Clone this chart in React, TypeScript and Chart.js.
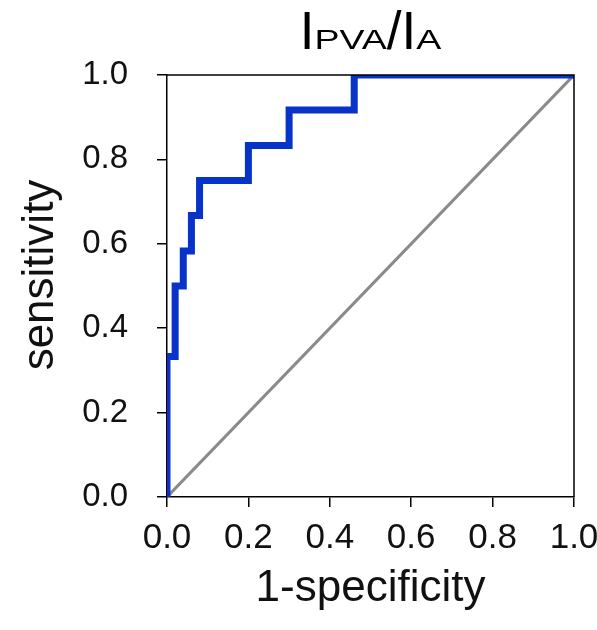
import React, { useEffect, useRef } from "react";
import { Chart, registerables } from "chart.js";

Chart.register(...registerables);

// ROC curve corner points (1-specificity, sensitivity)
const fpr = [0, 0, 0.02, 0.04, 0.06, 0.08, 0.2, 0.3, 0.46, 1];
const tpr = [0, 0.333, 0.5, 0.583, 0.667, 0.75, 0.833, 0.917, 1, 1];
// reference diagonal
const diagX = [0, 1];
const diagY = [0, 1];
const tickValues = [0, 0.2, 0.4, 0.6, 0.8, 1.0];
const xTitle = "1-specificity";
const yTitle = "sensitivity";
const titleParts = [
  { text: "I", sub: false },
  { text: "PVA", sub: true },
  { text: "/", sub: false },
  { text: "I", sub: false },
  { text: "A", sub: true },
];

const FONT = "Arial, 'Liberation Sans', sans-serif";

export default function App() {
  const ref = useRef<HTMLCanvasElement>(null);

  useEffect(() => {
    const canvas = ref.current;
    if (!canvas) return;

    const titlePlugin = {
      id: "subTitle",
      afterDraw(chart: any) {
        const ctx = chart.ctx;
        const area = chart.chartArea;
        ctx.save();
        // box top & right
        ctx.strokeStyle = "#000";
        ctx.lineWidth = 1.5;
        ctx.beginPath();
        ctx.moveTo(area.left, area.top);
        ctx.lineTo(area.right, area.top);
        ctx.lineTo(area.right, area.bottom);
        ctx.stroke();

        // y axis title
        ctx.save();
        ctx.font = `44px ${FONT}`;
        ctx.fillStyle = "#111";
        ctx.textAlign = "center";
        ctx.textBaseline = "alphabetic";
        ctx.translate(53, 275);
        ctx.rotate(-Math.PI / 2);
        ctx.fillText(yTitle, 0, 0);
        ctx.restore();

        // title with subscripts
        const big = `53px ${FONT}`;
        const small = `28px ${FONT}`;
        const subScale = 1.34;
        let total = 0;
        const widths = titleParts.map((p) => {
          ctx.font = p.sub ? small : big;
          const w = ctx.measureText(p.text).width * (p.sub ? subScale : 1);
          total += w;
          return w;
        });
        let x = (area.left + area.right) / 2 - total / 2;
        const baseY = 49;
        ctx.fillStyle = "#000";
        ctx.textBaseline = "alphabetic";
        ctx.textAlign = "left";
        titleParts.forEach((p, i) => {
          ctx.font = p.sub ? small : big;
          if (p.sub) {
            ctx.save();
            ctx.translate(x, baseY);
            ctx.scale(subScale, 1);
            ctx.fillText(p.text, 0, 0);
            ctx.restore();
          } else {
            ctx.fillText(p.text, x, baseY);
          }
          x += widths[i];
        });
        ctx.restore();
      },
    };

    const chart = new Chart(canvas, {
      type: "line",
      data: {
        datasets: [
          {
            data: fpr.map((x, i) => ({ x, y: tpr[i] })),
            borderColor: "#0733c8",
            borderWidth: 7,
            stepped: "before",
            pointRadius: 0,
            fill: false,
            borderJoinStyle: "miter",
            borderCapStyle: "butt",
            order: 0,
          },
          {
            data: diagX.map((x, i) => ({ x, y: diagY[i] })),
            borderColor: "#8a8a8a",
            borderWidth: 3,
            pointRadius: 0,
            fill: false,
            order: 1,
          },
        ],
      },
      options: {
        responsive: false,
        animation: false,
        events: [],
        layout: { padding: { top: 75, right: 23, bottom: 0, left: 0 } },
        plugins: { legend: { display: false }, tooltip: { enabled: false }, title: { display: false } },
        scales: {
          x: {
            type: "linear",
            min: 0,
            max: 1,
            afterBuildTicks: (s: any) => {
              s.ticks = tickValues.map((v) => ({ value: v }));
            },
            afterFit: (s: any) => {
              s.height = 133;
              s.paddingRight = 0;
            },
            ticks: {
              callback: (v: any) => Number(v).toFixed(1),
              font: { size: 35, family: FONT },
              color: "#111",
              padding: 10,
              maxRotation: 0,
              autoSkip: false,
            },
            grid: { drawOnChartArea: false, drawTicks: true, tickLength: 10, color: "#000", lineWidth: 1.5 },
            border: { color: "#000", width: 1.5 },
            title: {
              display: true,
              text: xTitle,
              font: { size: 44, family: FONT },
              color: "#111",
              padding: { top: 0, bottom: 15 },
            },
          },
          y: {
            type: "linear",
            min: 0,
            max: 1,
            afterBuildTicks: (s: any) => {
              s.ticks = tickValues.map((v) => ({ value: v }));
            },
            afterFit: (s: any) => {
              s.width = 167;
            },
            ticks: {
              callback: (v: any) => Number(v).toFixed(1),
              font: { size: 33, family: FONT },
              color: "#111",
              padding: 29,
              autoSkip: false,
            },
            grid: { drawOnChartArea: false, drawTicks: true, tickLength: 10, color: "#000", lineWidth: 1.5 },
            border: { color: "#000", width: 1.5 },
            title: { display: false },
          },
        },
      },
      plugins: [titlePlugin],
    } as any);

    return () => chart.destroy();
  }, []);

  return (
    <div style={{ position: "fixed", left: 0, top: 0, width: 597, height: 630, background: "#fff" }}>
      <canvas ref={ref} width={597} height={630} style={{ width: 597, height: 630, display: "block" }} />
    </div>
  );
}
